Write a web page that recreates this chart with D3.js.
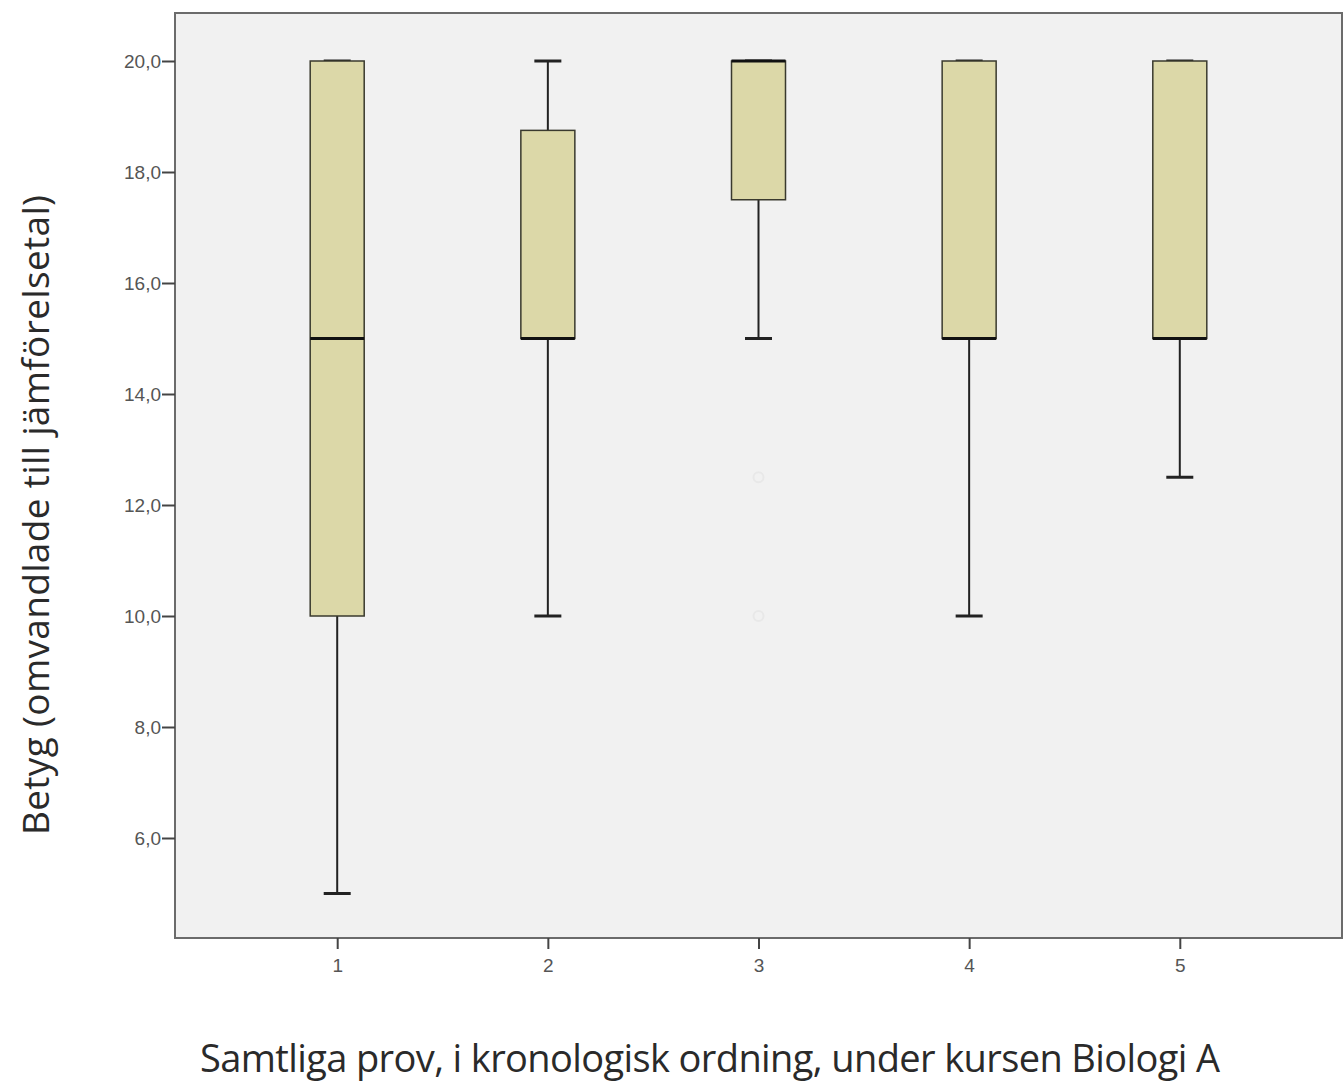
<!DOCTYPE html>
<html>
<head>
<meta charset="utf-8">
<script src="https://cdn.jsdelivr.net/npm/d3@7"></script>
<style>
  body { margin: 0; background: #fff; }
  svg { display: block; }
</style>
</head>
<body>
<svg id="chart" width="1344" height="1082"></svg>
<script>
const categories = ['1', '2', '3', '4', '5'];
const mins = [5, 10, 15, 10, 12.5];
const q1s = [10, 15, 17.5, 15, 15];
const medians = [15, 15, 20, 15, 15];
const q3s = [20, 18.75, 20, 20, 20];
const maxs = [20, 20, 20, 20, 20];
const outliers = [{cat: '3', value: 12.5}, {cat: '3', value: 10}];
const yTicks = [6, 8, 10, 12, 14, 16, 18, 20];

const svg = d3.select('svg#chart'),
  frame = {left: 175, right: 1342, top: 13, bottom: 938};

const data = categories.map((c, i) => ({
  cat: c, min: mins[i], q1: q1s[i], median: medians[i], q3: q3s[i], max: maxs[i]
}));

// scales
const x = d3.scalePoint().domain(categories)
  .range([frame.left, frame.right]).padding(0.77);
const y = d3.scaleLinear().domain([6, 20]).range([838, 61]);

const boxW = 54, capW = 27;

svg.append('rect')
  .attr('x', frame.left).attr('y', frame.top)
  .attr('width', frame.right - frame.left)
  .attr('height', frame.bottom - frame.top)
  .attr('fill', '#f1f1f1')
  .attr('stroke', '#6b6b6b')
  .attr('stroke-width', 2);

// axes
const tickFont = 'Liberation Sans, Arial, sans-serif';
const yAxis = svg.append('g')
  .attr('transform', `translate(${frame.left},0)`)
  .call(d3.axisLeft(y).tickValues(yTicks).tickSize(13).tickPadding(1)
    .tickFormat(d => d3.format('.1f')(d).replace('.', ',')));
yAxis.select('.domain').remove();
yAxis.selectAll('line').attr('stroke', '#444').attr('stroke-width', 2);
yAxis.selectAll('text').attr('fill', '#555')
  .style('font-family', tickFont).style('font-size', '19px');

const xAxis = svg.append('g')
  .attr('transform', `translate(0,${frame.bottom})`)
  .call(d3.axisBottom(x).tickSize(11).tickPadding(10));
xAxis.select('.domain').remove();
xAxis.selectAll('line').attr('stroke', '#444').attr('stroke-width', 2);
xAxis.selectAll('text').attr('fill', '#555')
  .style('font-family', tickFont).style('font-size', '19px');

// boxes
const g = svg.append('g');
const box = g.selectAll('g.box').data(data).enter().append('g').classed('box', true);

box.append('line')
  .attr('x1', d => x(d.cat)).attr('x2', d => x(d.cat))
  .attr('y1', d => y(d.min)).attr('y2', d => y(d.q1))
  .attr('stroke', '#222').attr('stroke-width', 2);
box.append('line')
  .attr('x1', d => x(d.cat)).attr('x2', d => x(d.cat))
  .attr('y1', d => y(d.q3)).attr('y2', d => y(d.max))
  .attr('stroke', '#222').attr('stroke-width', 2);
box.selectAll('line.cap')
  .data(d => [d.min, d.max].map(v => ({cat: d.cat, v})))
  .enter().append('line').classed('cap', true)
  .attr('x1', d => x(d.cat) - capW / 2).attr('x2', d => x(d.cat) + capW / 2)
  .attr('y1', d => y(d.v)).attr('y2', d => y(d.v))
  .attr('stroke', '#222').attr('stroke-width', 3);

box.append('rect')
  .attr('x', d => x(d.cat) - boxW / 2)
  .attr('y', d => y(d.q3))
  .attr('width', boxW)
  .attr('height', d => y(d.q1) - y(d.q3))
  .attr('fill', '#dcd8a8')
  .attr('stroke', '#3a3a2e')
  .attr('stroke-width', 1.5);

box.append('line')
  .attr('x1', d => x(d.cat) - boxW / 2).attr('x2', d => x(d.cat) + boxW / 2)
  .attr('y1', d => y(d.median)).attr('y2', d => y(d.median))
  .attr('stroke', '#111').attr('stroke-width', 3);

// faint outliers
g.selectAll('circle.out').data(outliers).enter().append('circle')
  .classed('out', true)
  .attr('cx', d => x(d.cat)).attr('cy', d => y(d.value))
  .attr('r', 5).attr('fill', 'none')
  .attr('stroke', '#e8e8e8').attr('stroke-width', 2);

// titles
svg.append('text')
  .attr('x', 710).attr('y', 1072)
  .attr('text-anchor', 'middle')
  .attr('textLength', 1020).attr('lengthAdjust', 'spacing')
  .attr('fill', '#2a2a2a')
  .style('font-family', 'Open Sans, sans-serif').style('font-size', '38px')
  .text('Samtliga prov, i kronologisk ordning, under kursen Biologi A');

svg.append('text')
  .attr('transform', 'translate(49,515) rotate(-90)')
  .attr('text-anchor', 'middle')
  .attr('textLength', 640).attr('lengthAdjust', 'spacing')
  .attr('fill', '#2a2a2a')
  .style('font-family', 'Open Sans, sans-serif').style('font-size', '37px')
  .text('Betyg (omvandlade till jämförelsetal)');
</script>
</body>
</html>
